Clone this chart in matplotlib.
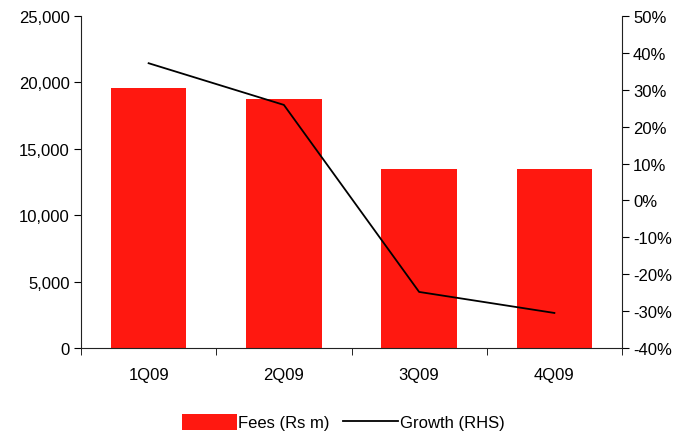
import matplotlib
matplotlib.use("Agg")
import matplotlib.pyplot as plt
from matplotlib.ticker import FuncFormatter, FixedLocator

categories = ["1Q09", "2Q09", "3Q09", "4Q09"]
fees = [19580, 18750, 13480, 13480]
growth = [37.2, 25.9, -24.8, -30.5]

plt.rcParams['font.family'] = ['Liberation Sans', 'DejaVu Sans']
fig = plt.figure(figsize=(6.83, 4.35), dpi=100)
ax = fig.add_axes([81/683, 1-349/435, (622-81)/683, (349-17)/435])
x = list(range(len(categories)))
bars = ax.bar(x, fees, width=0.56, color="#FF1810", label="Fees (Rs m)", zorder=2)
ax.set_xlim(-0.5, 3.5)
ax.set_ylim(0, 25000)
ax.set_yticks(range(0, 25001, 5000))
ax.yaxis.set_major_formatter(FuncFormatter(lambda v, p: f"{int(v):,}"))
ax.set_xticks(x)
ax.set_xticklabels(categories)
ax.xaxis.set_minor_locator(FixedLocator([0.5, 1.5, 2.5, 3.5, -0.5]))
ax.tick_params(axis='x', which='major', length=0, pad=14, labelsize=12)
ax.tick_params(axis='x', which='minor', length=5, direction='out')
ax.tick_params(axis='y', length=5, direction='out', labelsize=12, pad=3)
for s in ["top", "right"]:
    ax.spines[s].set_visible(False)
for s in ["left", "bottom"]:
    ax.spines[s].set_color("#222222")

ax2 = ax.twinx()
line, = ax2.plot(x, growth, color="black", lw=1.3, label="Growth (RHS)")
ax2.set_ylim(-40, 50)
ax2.set_yticks(range(-40, 51, 10))
ax2.yaxis.set_major_formatter(FuncFormatter(lambda v, p: f"{int(v)}%"))
ax2.tick_params(axis='y', length=5, direction='out', labelsize=12, pad=3)
for s in ["top", "left", "bottom"]:
    ax2.spines[s].set_visible(False)
ax2.spines["right"].set_color("#222222")

fig.legend([bars, line], ["Fees (Rs m)", "Growth (RHS)"], loc="center",
           bbox_to_anchor=(343/683, 1-423/435), ncol=2, frameon=False,
           fontsize=12, handlelength=3.3, handleheight=1.1, columnspacing=0.8,
           handletextpad=0.1)
fig.savefig("out.png", dpi=100)
